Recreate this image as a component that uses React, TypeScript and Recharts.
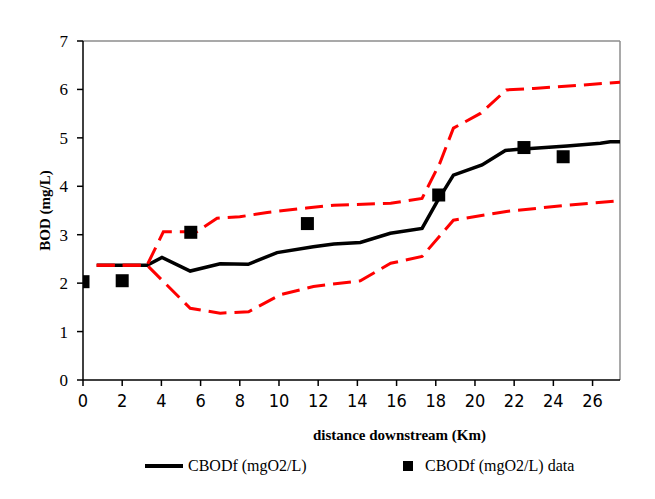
import React from 'react';
import { ComposedChart, Line, Scatter, XAxis, YAxis, ReferenceLine } from 'recharts';

// Model line (CBODf)
const modelKm = [0.7, 3.27, 4.03, 5.47, 7.0, 8.43, 9.9, 11.75, 12.8, 14.15, 15.68, 17.3, 18.06, 18.9, 20.36, 21.55, 22.1, 24.7, 26.4, 26.9, 27.4];
const modelBod = [2.37, 2.37, 2.53, 2.25, 2.4, 2.39, 2.63, 2.75, 2.81, 2.84, 3.03, 3.13, 3.68, 4.23, 4.44, 4.74, 4.76, 4.83, 4.89, 4.92, 4.92];

// Upper bound (red dashed)
const upperKm = [0.7, 3.27, 4.1, 5.8, 6.84, 8.0, 9.4, 11.4, 12.8, 15.7, 17.3, 18.2, 18.9, 20.3, 21.6, 23.0, 25.5, 27.4];
const upperBod = [2.37, 2.37, 3.06, 3.06, 3.34, 3.37, 3.46, 3.55, 3.61, 3.65, 3.75, 4.47, 5.2, 5.51, 5.99, 6.02, 6.09, 6.15];

// Lower bound (red dashed)
const lowerKm = [0.7, 3.27, 5.47, 7.0, 8.45, 10.07, 11.76, 14.15, 15.7, 17.3, 18.9, 21.6, 24.7, 27.4];
const lowerBod = [2.37, 2.37, 1.48, 1.38, 1.41, 1.76, 1.93, 2.05, 2.41, 2.55, 3.3, 3.48, 3.61, 3.7];

// Observed data
const obsKm = [0, 2, 5.5, 11.45, 18.15, 22.5, 24.5];
const obsBod = [2.03, 2.05, 3.05, 3.23, 3.82, 4.8, 4.61];

const xTicks = [0, 2, 4, 6, 8, 10, 12, 14, 16, 18, 20, 22, 24, 26];
const yTicks = [0, 1, 2, 3, 4, 5, 6, 7];
const xMax = 27.4;
const yMax = 7;

const zip = (xs: number[], ys: number[]) => xs.map((x, i) => ({ x, y: ys[i] }));
const modelData = zip(modelKm, modelBod);
const upperData = zip(upperKm, upperBod);
const lowerData = zip(lowerKm, lowerBod);
const obsData = zip(obsKm, obsBod);

const serif = "Liberation Serif, DejaVu Serif, serif";
const narrow = "Liberation Sans Narrow, DejaVu Sans Condensed, sans-serif";

const SquareShape = (props: any) => {
  const { cx, cy } = props;
  if (cx == null || cy == null) return null;
  return <rect x={cx - 6.5} y={cy - 6.5} width={13} height={13} fill="#000" />;
};

export default function App() {
  return (
    <div style={{ position: 'absolute', left: 0, top: 0, width: 655, height: 499, background: '#fff' }}>
      <ComposedChart width={655} height={499} margin={{ top: 41, right: 35, left: 0, bottom: 0 }}>
        <XAxis
          type="number"
          dataKey="x"
          domain={[0, xMax]}
          ticks={xTicks}
          allowDataOverflow
          height={119}
          tickSize={6}
          tickMargin={8}
          stroke="#000"
          axisLine={{ stroke: '#000', strokeWidth: 1.5 }}
          tickLine={{ stroke: '#000', strokeWidth: 1.5 }}
          tick={{ fill: '#000', fontFamily: narrow, fontSize: 18 }}
          label={{
            content: (p: any) => {
              const vb = p.viewBox || {};
              return (
                <text x={vb.x + vb.width / 2 + 48} y={vb.y + 60} textAnchor="middle" fontFamily={serif} fontWeight="bold" fontSize={15} fill="#000">
                  distance downstream (Km)
                </text>
              );
            },
          }}
        />
        <YAxis
          type="number"
          domain={[0, yMax]}
          ticks={yTicks}
          width={83}
          tickSize={6}
          tickMargin={9}
          stroke="#000"
          axisLine={{ stroke: '#000', strokeWidth: 1.5 }}
          tickLine={{ stroke: '#000', strokeWidth: 1.5 }}
          tick={{ fill: '#000', fontFamily: serif, fontSize: 17 }}
          label={{
            content: (p: any) => {
              const vb = p.viewBox || {};
              const cx = 50;
              const cy = vb.y + vb.height / 2;
              return (
                <text x={cx} y={cy} transform={`rotate(-90 ${cx} ${cy})`} textAnchor="middle" fontFamily={serif} fontWeight="bold" fontSize={15} fill="#000">
                  BOD (mg/L)
                </text>
              );
            },
          }}
        />
        <ReferenceLine y={yMax} stroke="#8c8c8c" strokeWidth={1.5} />
        <ReferenceLine x={xMax} stroke="#8c8c8c" strokeWidth={1.5} />
        <Line data={modelData} dataKey="y" type="linear" stroke="#000" strokeWidth={3.5} dot={false} isAnimationActive={false} />
        <Line data={upperData} dataKey="y" type="linear" stroke="#ff0000" strokeWidth={3} strokeDasharray="18 8" dot={false} isAnimationActive={false} />
        <Line data={lowerData} dataKey="y" type="linear" stroke="#ff0000" strokeWidth={3} strokeDasharray="18 8" dot={false} isAnimationActive={false} />
        <Scatter data={obsData} dataKey="y" fill="#000" shape={SquareShape} isAnimationActive={false} />
      </ComposedChart>
      <div style={{ position: 'absolute', left: 0, top: 455, width: 655, height: 30, fontFamily: serif, fontSize: 16, color: '#000' }}>
        <div style={{ position: 'absolute', left: 145, top: 9, width: 38, height: 4, background: '#000' }} />
        <div style={{ position: 'absolute', left: 188, top: 0, lineHeight: '22px', whiteSpace: 'nowrap' }}>CBODf (mgO2/L)</div>
        <div style={{ position: 'absolute', left: 403, top: 6, width: 10, height: 10, background: '#000' }} />
        <div style={{ position: 'absolute', left: 425, top: 0, lineHeight: '22px', whiteSpace: 'nowrap' }}>CBODf (mgO2/L) data</div>
      </div>
    </div>
  );
}
